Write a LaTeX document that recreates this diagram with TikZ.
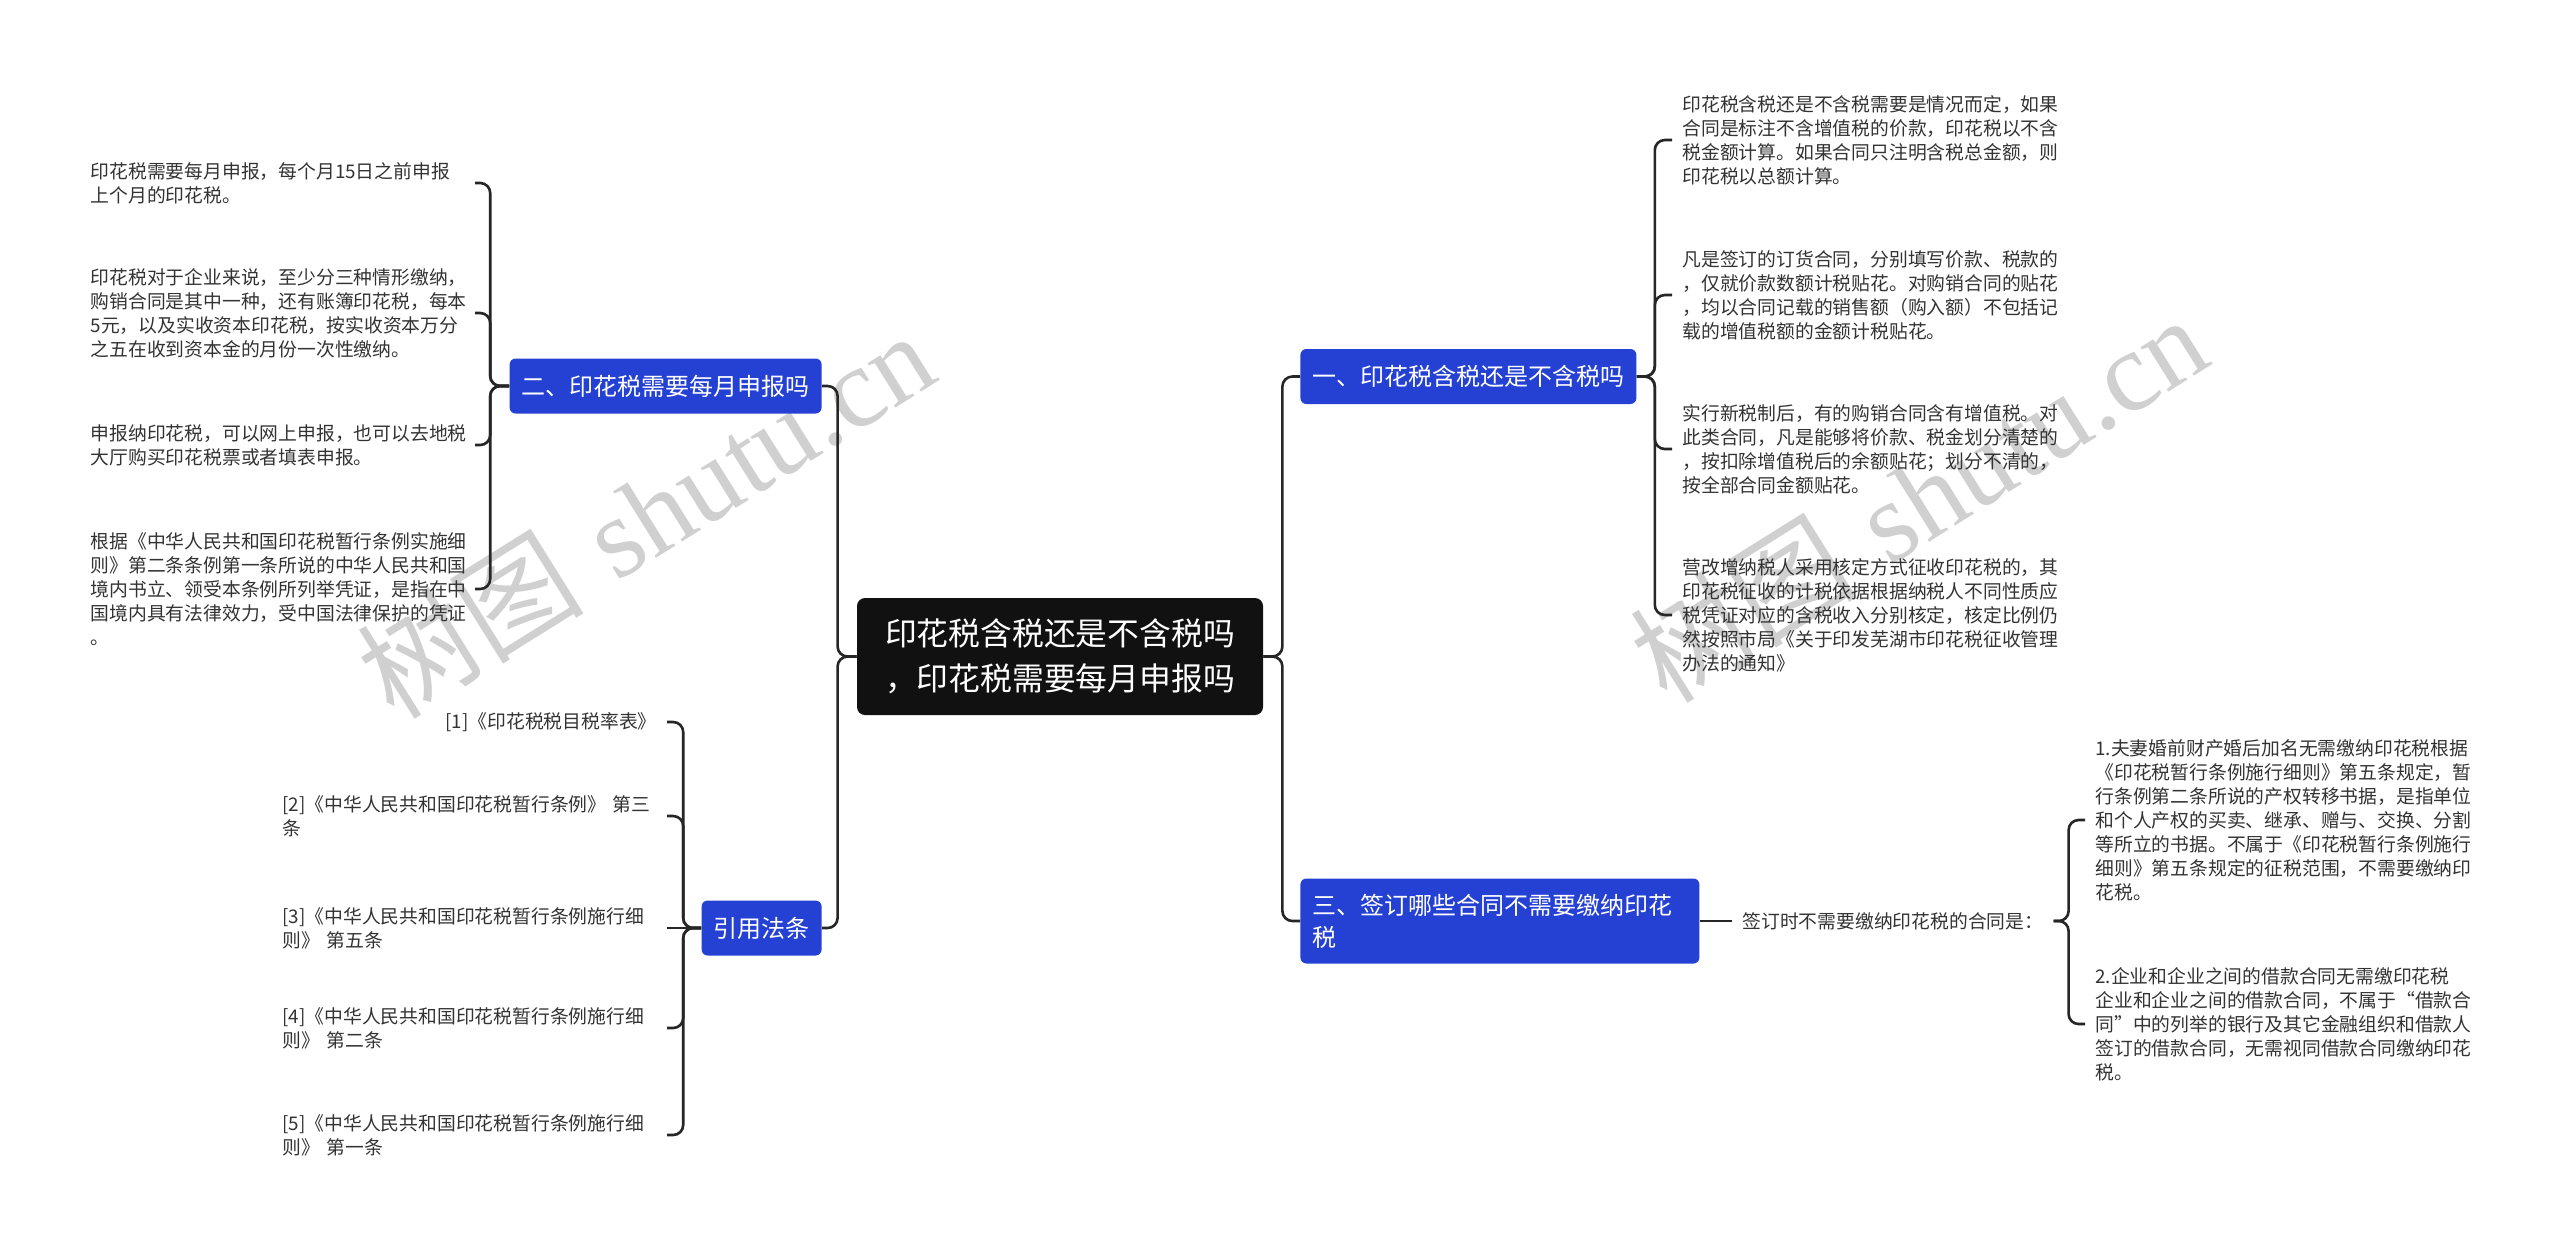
\documentclass[tikz,border=0pt]{standalone}
\usepackage{fontspec}
\usepackage{tikz}
\usepackage{xcolor}
\newfontfamily\cjk{Noto Sans CJK SC}
\newfontfamily\wmserif{Liberation Serif}
\definecolor{topicblue}{RGB}{37,65,212}
\definecolor{rootblack}{RGB}{17,17,17}
\definecolor{leafgray}{RGB}{51,51,51}
\definecolor{markgray}{RGB}{208,208,208}
\usetikzlibrary{positioning}

\begin{document}
\begin{tikzpicture}[
    x=0.5pt, y=-0.5pt,
    root/.style={fill=rootblack, rounded corners=4pt, text=white, align=left,
      font=\cjk\fontsize{15.9pt}{22.5pt}\selectfont,
      minimum width=203pt, minimum height=58.5pt, inner sep=0pt},
    topic/.style={fill=topicblue, rounded corners=3pt, text=white, align=left,
      font=\cjk\fontsize{12pt}{16pt}\selectfont, inner xsep=6pt, minimum height=27.5pt},
    note/.style={text=leafgray, align=left, inner xsep=5pt, inner ysep=1pt,
      font=\cjk\fontsize{9.4pt}{12pt}\selectfont},
    leaf/.style={note, text width=187pt},
    link/.style={draw=black!85, line width=1.3pt, rounded corners=5pt},
    wmark/.style={text=markgray, font=\fontsize{57pt}{57pt}\selectfont, rotate=32},
  ]
  \path[use as bounding box, fill=white] (0,0) rectangle (2560,1250);

  % watermark
  \node[wmark] (wm1) at (645,514) {{\cjk 树图} {\wmserif shutu.cn}};
  \node[wmark] (wm2) at (1918,498) {{\cjk 树图} {\wmserif shutu.cn}};

  % centre and topics
  \node[root] (root) at (1060,656.5) {印花税含税还是不含税吗\\，印花税需要每月申报吗};
  \node[topic, anchor=west] (one) at (1300,376.5) {一、印花税含税还是不含税吗};
  \node[topic, anchor=east] (two) at (822,386) {二、印花税需要每月申报吗};
  \node[topic, anchor=west, text width=187.5pt, minimum height=42.5pt] (three) at (1300,921)
    {三、签订哪些合同不需要缴纳印花\\税};
  \node[topic, anchor=east] (refs) at (822,928) {引用法条};

  % 一
  \node[leaf, anchor=west] (b1) at (1672,140) {印花税含税还是不含税需要是情况而定，如果\\合同是标注不含增值税的价款，印花税以不含\\税金额计算。如果合同只注明含税总金额，则\\印花税以总额计算。};
  \node[leaf, anchor=west] (b2) at (1672,295) {凡是签订的订货合同，分别填写价款、税款的\\，仅就价款数额计税贴花。对购销合同的贴花\\，均以合同记载的销售额（购入额）不包括记\\载的增值税额的金额计税贴花。};
  \node[leaf, anchor=west] (b3) at (1672,449) {实行新税制后，有的购销合同含有增值税。对\\此类合同，凡是能够将价款、税金划分清楚的\\，按扣除增值税后的余额贴花；划分不清的，\\按全部合同金额贴花。};
  \node[leaf, anchor=west] (b4) at (1672,615) {营改增纳税人采用核定方式征收印花税的，其\\印花税征收的计税依据根据纳税人不同性质应\\税凭证对应的含税收入分别核定，核定比例仍\\然按照市局《关于印发芜湖市印花税征收管理\\办法的通知》};

  % 二
  \node[leaf, anchor=east] (a1) at (475,183) {印花税需要每月申报，每个月15日之前申报\\上个月的印花税。};
  \node[leaf, anchor=east] (a2) at (475,313) {印花税对于企业来说，至少分三种情形缴纳，\\购销合同是其中一种，还有账簿印花税，每本\\5元，以及实收资本印花税，按实收资本万分\\之五在收到资本金的月份一次性缴纳。};
  \node[leaf, anchor=east] (a3) at (475,445) {申报纳印花税，可以网上申报，也可以去地税\\大厅购买印花税票或者填表申报。};
  \node[leaf, anchor=east] (a4) at (475,589) {根据《中华人民共和国印花税暂行条例实施细\\则》第二条条例第一条所说的中华人民共和国\\境内书立、领受本条例所列举凭证，是指在中\\国境内具有法律效力，受中国法律保护的凭证\\。};

  % 三
  \node[note, anchor=west] (sign) at (1732,921) {签订时不需要缴纳印花税的合同是：};
  \node[leaf, anchor=west] (s1) at (2085,820) {1.夫妻婚前财产婚后加名无需缴纳印花税根据\\《印花税暂行条例施行细则》第五条规定，暂\\行条例第二条所说的产权转移书据，是指单位\\和个人产权的买卖、继承、赠与、交换、分割\\等所立的书据。不属于《印花税暂行条例施行\\细则》第五条规定的征税范围，不需要缴纳印\\花税。};
  \node[leaf, anchor=west] (s2) at (2085,1024) {2.企业和企业之间的借款合同无需缴印花税\\企业和企业之间的借款合同，不属于“借款合\\同”中的列举的银行及其它金融组织和借款人\\签订的借款合同，无需视同借款合同缴纳印花\\税。};

  % 引用法条
  \node[note, anchor=east] (r1) at (667,722) {[1]《印花税税目税率表》};
  \node[leaf, anchor=east] (r2) at (667,816) {[2]《中华人民共和国印花税暂行条例》 第三\\条};
  \node[leaf, anchor=east] (r3) at (667,928) {[3]《中华人民共和国印花税暂行条例施行细\\则》 第五条};
  \node[leaf, anchor=east] (r4) at (667,1028) {[4]《中华人民共和国印花税暂行条例施行细\\则》 第二条};
  \node[leaf, anchor=east] (r5) at (667,1135) {[5]《中华人民共和国印花税暂行条例施行细\\则》 第一条};

  % connectors
  \foreach \t in {two,refs}
    \draw[link] (root.west) -- ++(-19,0) |- (\t.east);
  \foreach \t in {one,three}
    \draw[link] (root.east) -- ++(19,0) |- (\t.west);
  \foreach \n in {a1,a2,a3,a4}
    \draw[link] (two.west) -- ++(-19,0) |- (\n.east);
  \foreach \n in {b1,b2,b3,b4}
    \draw[link] (one.east) -- ++(18,0) |- (\n.west);
  \foreach \n in {r1,r2,r4,r5}
    \draw[link] (refs.west) -- ++(-18,0) |- (\n.east);
  \draw[link] (refs.west) -- (r3.east);
  \draw[link] (three.east) -- (sign.west);
  \foreach \n in {s1,s2}
    \draw[link] (sign.east) -- ++(15,0) |- (\n.west);
\end{tikzpicture}
\end{document}
